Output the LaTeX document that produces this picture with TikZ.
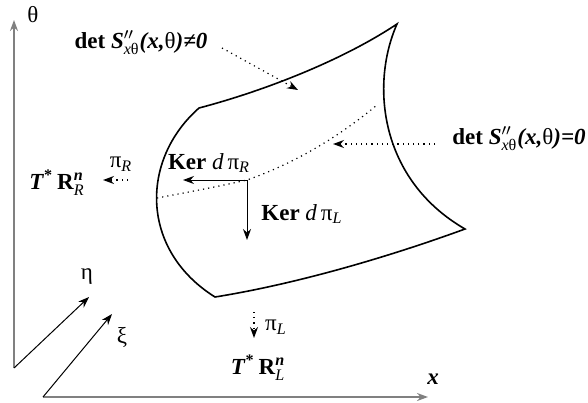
\documentclass[tikz,border=0pt]{standalone}
\usepackage{amsmath}
\usepackage{fontspec}
\setmainfont{Liberation Serif}
\usetikzlibrary{arrows.meta}

\newcommand{\bi}[1]{\textbf{\textit{#1}}}

\begin{document}
\begin{tikzpicture}[x=0.5pt, y=-0.5pt,
    font=\fontsize{11.5}{13}\selectfont,
    lbl/.style={inner sep=1pt},
    tip/.style={-{Stealth[length=5.5pt, width=4pt]}},
    axis/.style={tip, draw=black!50, line width=1pt},
    rim/.style={line width=0.8pt},
    dots/.style={dotted, line width=0.6pt},
  ]
  \useasboundingbox (0,0) rectangle (588,402);

  % ---------- axes ----------
  \coordinate (o1) at (14,368);
  \coordinate (o2) at (43,397);
  \coordinate (thtop) at (14,20);
  \coordinate (xend) at (428,397);
  \coordinate (etaend) at (89,297);
  \coordinate (xiend) at (112,314);
  \draw[axis] (o1) -- (thtop);
  \draw[axis] (o2) -- (xend);
  \draw[tip, line width=0.5pt] (o1) -- (etaend);
  \draw[tip, line width=0.5pt] (o2) -- (xiend);
  \node[lbl] (th) at (33,15) {θ};
  \node[lbl] (xl) at (433,379) {\bi{x}};
  \node[lbl] (eta) at (87,277) {η};
  \node[lbl] (xi) at (122,337) {ξ};

  % ---------- surface ----------
  \coordinate (a) at (199,108);
  \coordinate (b) at (397,24);
  \coordinate (c) at (465,229);
  \coordinate (d) at (215,297);
  \draw[rim] (a) .. controls (260,92) and (340,62) .. (b)
             .. controls (370,85) and (380,180) .. (c)
             .. controls (380,260) and (290,285) .. (d)
             .. controls (140,250) and (140,160) .. (a);

  % ---------- fold line ----------
  \coordinate (f1) at (157,198);
  \coordinate (f2) at (377,105);
  \coordinate (k) at (247,180);
  \draw[dots] (f1) .. controls (200,190) and (225,185) .. (k)
              .. controls (290,165) and (335,140) .. (f2);

  % ---------- kernels ----------
  \coordinate (kr) at (183,180);
  \coordinate (kl) at (247,240);
  \draw[tip, line width=0.5pt] (k) -- (kr);
  \draw[tip, line width=0.5pt] (k) -- (kl);
  \node[lbl] (kerR) at (209,163) {\textbf{Ker} $\textit{d}\,\text{π}_{\textit{R}}$};
  \node[lbl] (kerL) at (302,214) {\textbf{Ker} $\textit{d}\,\text{π}_{\textit{L}}$};

  % ---------- projections ----------
  \node[lbl] (tR) at (57,183) {$\bi{T}^{\textbf{*}}\,\textbf{R}^{\bi{n}}_{\textit{R}}$};
  \node[lbl] (tL) at (258,368) {$\bi{T}^{\textbf{*}}\,\textbf{R}^{\bi{n}}_{\textit{L}}$};
  \coordinate (pr1) at (128,180);
  \coordinate (pr2) at (103,180);
  \coordinate (pl1) at (254,312);
  \coordinate (pl2) at (254,338);
  \draw[tip, dots] (pr1) -- (pr2);
  \draw[tip, dots] (pl1) -- (pl2);
  \node[lbl] (piR) at (121,164) {$\text{π}_{\textit{R}}$};
  \node[lbl] (piL) at (276,327) {$\text{π}_{\textit{L}}$};

  % ---------- determinant labels ----------
  \node[lbl] (dne) at (141,43)
    {\textbf{det} $\bi{S}''_{\textit{x}\text{θ}}$\bi{(x,}θ\bi{)≠0}};
  \node[lbl] (deq) at (519,139)
    {\textbf{det} $\bi{S}''_{\textit{x}\text{θ}}$\bi{(x,}θ\bi{)=0}};
  \coordinate (dne1) at (222,48);
  \coordinate (dne2) at (298,90);
  \coordinate (deq1) at (435,144);
  \coordinate (deq2) at (333,144);
  \draw[tip, dots] (dne1) -- (dne2);
  \draw[tip, dots] (deq1) -- (deq2);

\end{tikzpicture}
\end{document}
